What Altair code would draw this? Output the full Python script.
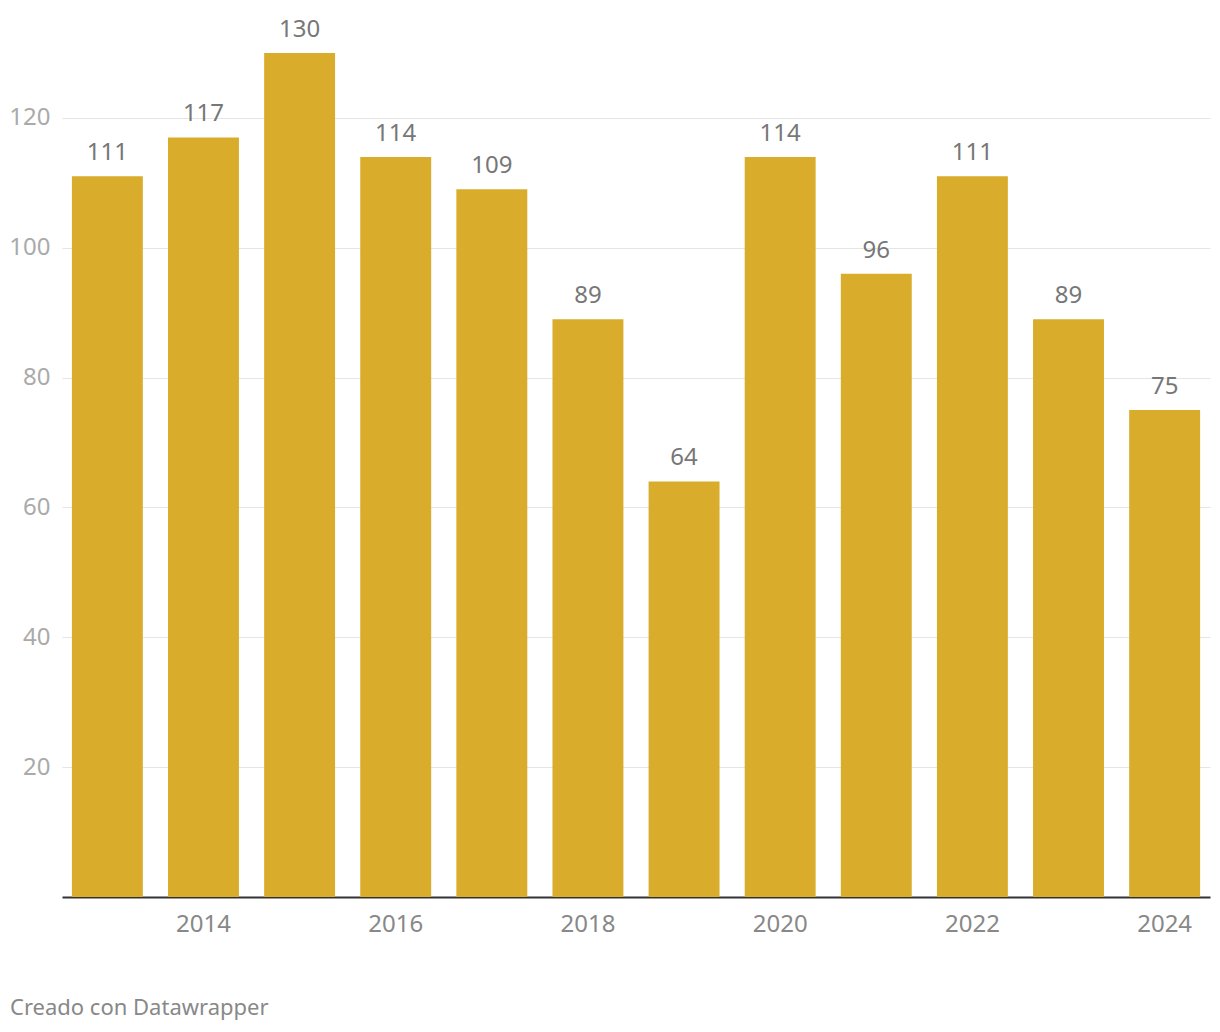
import altair as alt
import pandas as pd

years = [2013, 2014, 2015, 2016, 2017, 2018, 2019, 2020, 2021, 2022, 2023, 2024]
values = [111, 117, 130, 114, 109, 89, 64, 114, 96, 111, 89, 75]
y_ticks = [20, 40, 60, 80, 100, 120]
footer = "Creado con Datawrapper"

df = pd.DataFrame({"year": years, "value": values})

FONT = "Noto Sans"

x = alt.X(
    "year:O",
    title=None,
    scale=alt.Scale(paddingInner=0.262, paddingOuter=0.103),
    axis=alt.Axis(
        labelAngle=0,
        labelExpr="datum.value % 2 == 0 ? datum.label : ''",
        labelFont=FONT,
        labelFontSize=24,
        labelColor="#888888",
        labelPadding=15,
        ticks=False,
        domainColor="#333333",
        domainWidth=2,
        grid=False,
    ),
)
y = alt.Y(
    "value:Q",
    title=None,
    scale=alt.Scale(domain=[0, 130], nice=False),
    axis=alt.Axis(
        values=y_ticks,
        labelFont=FONT,
        labelFontSize=24,
        labelColor="#aaaaaa",
        labelPadding=12,
        labelBaseline="middle",
        ticks=False,
        domain=False,
        grid=True,
        gridColor="#e5e5e5",
        gridWidth=1,
    ),
)

bars = alt.Chart(df).mark_bar(color="#D9AD2B").encode(x=x, y=y)
labels = alt.Chart(df).mark_text(
    font=FONT, fontSize=24, color="#777777", baseline="alphabetic", dy=-16
).encode(x=x, y=y, text=alt.Text("value:Q"))

foot = alt.Chart(pd.DataFrame({"t": [footer]})).mark_text(
    font=FONT, fontSize=22, color="#888888", align="left", baseline="middle"
).encode(x=alt.value(-52), y=alt.value(955), text="t:N")

chart = alt.layer(bars, labels, foot).properties(
    width=1148,
    height=844,
    autosize=alt.AutoSizeParams(type="none"),
    padding={"left": 54, "top": 45, "right": 2, "bottom": 125},
).configure_view(stroke=None)

chart.save("out.html", embed_options={"renderer": "svg", "actions": False})
